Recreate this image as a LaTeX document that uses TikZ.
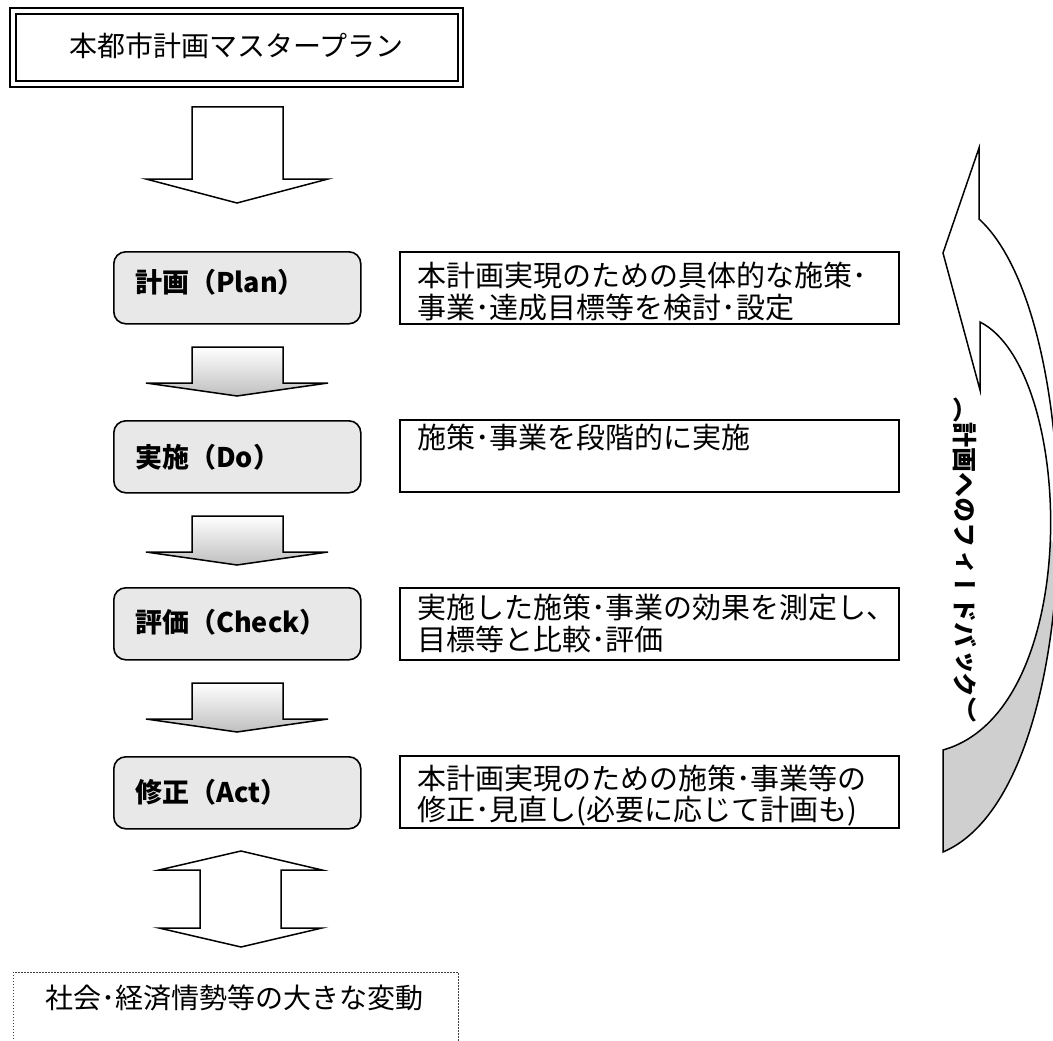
\documentclass[tikz,border=0pt]{standalone}
\usepackage{fontspec}
\newfontfamily\jp{Noto Sans CJK JP}
\newfontfamily\jpv[Vertical=RotatedGlyphs]{Noto Sans CJK JP}
\begin{document}
\begin{tikzpicture}[x=1pt,y=-1pt,
  desc/.style={draw, line width=1.5pt, rectangle, inner sep=0pt, minimum width=499pt, minimum height=72pt, anchor=north west},
  lbl/.style={draw, line width=1.6pt, fill=black!9, rounded corners=12pt, rectangle, inner sep=0pt, minimum width=247pt, minimum height=72pt, anchor=north west},
  dtext/.style={font=\jp\fontsize{29}{32}\selectfont, inner sep=0pt, anchor=base west},
  ltext/.style={font=\jp\bfseries\fontsize{27}{27}\selectfont, inner sep=0pt, anchor=base west},
  garrow/.style={line width=1.5pt, top color=white, bottom color=black!25, line join=miter},
  warrow/.style={line width=1.5pt, fill=white, line join=miter},
]
\useasboundingbox (0,0) rectangle (1053,1041);
\clip (0,0) rectangle (1053,1041);

% master plan box
\draw[line width=2.5pt] (10,8) rectangle (463,87);
\draw[line width=1.2pt] (16,14) rectangle (458,81);
\node[font=\jp\fontsize{28}{28}\selectfont, inner sep=0pt, anchor=base] (master) at (236.5,57) {本都市計画マスタープラン};

% first white arrow
\draw[warrow] (192,107) -- (283,107) -- (283,179) -- (328,179) -- (237,203) -- (146,179) -- (192,179) -- cycle;

% label boxes
\node[lbl] (plan) at (113,251) {};
\node[lbl] (do) at (113,420) {};
\node[lbl] (check) at (113,587) {};
\node[lbl] (act) at (113,756) {};
\node[ltext] (planT) at (135,292) {計画（Plan）};
\node[ltext] (doT) at (135,467) {実施（Do）};
\node[ltext] (checkT) at (135,632) {評価（Check）};
\node[ltext] (actT) at (135,802) {修正（Act）};

% description boxes
\node[desc] (pd) at (399,251) {};
\node[desc] (dd) at (399,419) {};
\node[desc] (cd) at (399,587) {};
\node[desc] (ad) at (399,755) {};
\node[dtext] (pd1) at (417,286) {本計画実現のための具体的な施策･};
\node[dtext] (pd2) at (417,318) {事業･達成目標等を検討･設定};
\node[dtext] (dd1) at (417,448) {施策･事業を段階的に実施};
\node[dtext] (cd1) at (417,618) {実施した施策･事業の効果を測定し、};
\node[dtext] (cd2) at (417,650) {目標等と比較･評価};
\node[dtext] (ad1) at (417,789) {本計画実現のための施策･事業等の};
\node[dtext] (ad2) at (417,820) {修正･見直し(必要に応じて計画も)};

% gradient arrows
\foreach \t in {347,516,683}
  \draw[garrow] (192,\t) -- (283,\t) -- (283,\t+36) -- (328,\t+36) -- (237,\t+49) -- (146,\t+36) -- (192,\t+36) -- cycle;

% double arrow
\draw[warrow] (241,851) -- (322,870) -- (281,870) -- (281,928) -- (322,928) -- (241,947) -- (159,928) -- (200,928) -- (200,870) -- (159,870) -- cycle;

% bottom dotted box
\draw[black!75, line width=0.9pt, dash pattern=on 1.5pt off 1.5pt] (13,1045) -- (13,972) -- (458,972) -- (458,1045);
\node[font=\jp\fontsize{28}{28}\selectfont, inner sep=0pt, anchor=base west] (change) at (45,1008) {社会･経済情勢等の大きな変動};

% feedback curved arrow
\path[fill=white] (979,148) -- (979,219) .. controls (1090,320) and (1090,790) .. (943,852) -- (943,750) .. controls (1085,710) and (1075,370) .. (980,322) -- (980,390) -- (943,253) -- cycle;
\fill[black!19] (1050.375,539) .. controls (1047,635) and (1014,730) .. (943,750) -- (943,852) .. controls (1016.5,821) and (1053.25,688) .. (1057.75,550.1) -- cycle;
\draw[line width=1.5pt, line join=miter] (979,148) -- (979,219) .. controls (1090,320) and (1090,790) .. (943,852) -- (943,750) .. controls (1085,710) and (1075,370) .. (980,322) -- (980,390) -- (943,253) -- cycle;
\node[font=\jpv\bfseries\fontsize{25}{25}\selectfont, rotate=-90, inner sep=0pt] (fb) at (965,560) {（計画へのフィードバック）};
\end{tikzpicture}
\end{document}
